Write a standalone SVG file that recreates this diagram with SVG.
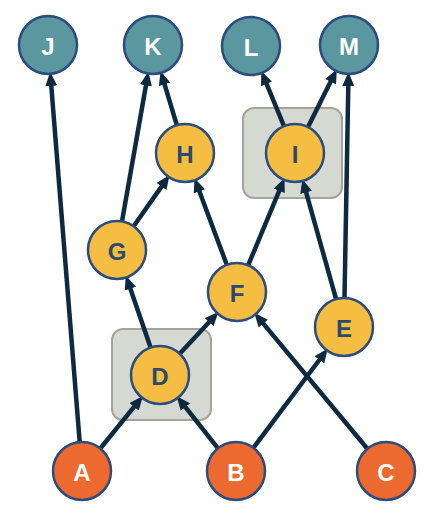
<svg xmlns="http://www.w3.org/2000/svg" width="427" height="522" viewBox="0 0 427 522">
<style>
.box{fill:#d6d8d2;stroke:#a3a49e;stroke-width:2}
.e{stroke:#0d2a40;stroke-width:4.5;fill:none;marker-end:url(#ah)}
.n circle{stroke:#2b4c7e;stroke-width:2.5}
.teal circle{fill:#5a979f}
.yel circle{fill:#f5bd41}
.org circle{fill:#ec6a2f}
.n text{font-family:"Liberation Sans",Arial,sans-serif;font-weight:bold;font-size:24px;text-anchor:middle;dominant-baseline:central}
.teal text,.org text{fill:#ffffff}
.yel text{fill:#2c4a6b}
</style>
<defs>
<marker id="ah" markerUnits="userSpaceOnUse" markerWidth="14" markerHeight="12" refX="6" refY="6" orient="auto">
<path d="M0,0 L14,6 L0,12 z" fill="#0d2a40"/>
</marker>
</defs>
<rect width="427" height="522" fill="#ffffff"/>
<g id="groups">
<rect class="box" x="243" y="108" width="99" height="90" rx="11"/>
<rect class="box" x="112" y="329" width="99" height="91" rx="11"/>
</g>
<g id="connectors">
<line class="e" x1="79.7" y1="442.1" x2="50.8" y2="79.9"/>
<line class="e" x1="100.3" y1="448.5" x2="137.9" y2="402.2"/>
<line class="e" x1="218.0" y1="448.3" x2="181.7" y2="402.4"/>
<line class="e" x1="253.4" y1="447.8" x2="323.0" y2="355.0"/>
<line class="e" x1="367.4" y1="448.7" x2="259.4" y2="318.9"/>
<line class="e" x1="150.6" y1="347.6" x2="128.4" y2="283.1"/>
<line class="e" x1="179.7" y1="353.7" x2="213.2" y2="317.7"/>
<line class="e" x1="122.0" y1="221.4" x2="147.0" y2="79.5"/>
<line class="e" x1="133.6" y1="226.3" x2="165.0" y2="181.6"/>
<line class="e" x1="226.8" y1="264.8" x2="197.3" y2="185.8"/>
<line class="e" x1="248.2" y1="265.2" x2="281.5" y2="185.3"/>
<line class="e" x1="336.1" y1="299.1" x2="304.5" y2="186.7"/>
<line class="e" x1="344.5" y1="298.0" x2="348.4" y2="80.0"/>
<line class="e" x1="176.8" y1="125.2" x2="162.9" y2="78.6"/>
<line class="e" x1="284.0" y1="126.2" x2="264.3" y2="78.3"/>
<line class="e" x1="308.0" y1="127.1" x2="333.3" y2="76.3"/>
</g>
<g id="J" class="n teal"><circle cx="48" cy="45" r="29"/><text x="48" y="46">J</text></g>
<g id="K" class="n teal"><circle cx="153" cy="45" r="29"/><text x="153" y="46">K</text></g>
<g id="L" class="n teal"><circle cx="251" cy="46" r="29"/><text x="251" y="47">L</text></g>
<g id="M" class="n teal"><circle cx="349" cy="45" r="29"/><text x="349" y="46">M</text></g>
<g id="H" class="n yel"><circle cx="185" cy="153" r="29"/><text x="185" y="154">H</text></g>
<g id="I" class="n yel"><circle cx="295" cy="153" r="29"/><text x="295" y="154">I</text></g>
<g id="G" class="n yel"><circle cx="117" cy="250" r="29"/><text x="117" y="251">G</text></g>
<g id="F" class="n yel"><circle cx="237" cy="292" r="29"/><text x="237" y="293">F</text></g>
<g id="E" class="n yel"><circle cx="344" cy="327" r="29"/><text x="344" y="328">E</text></g>
<g id="D" class="n yel"><circle cx="160" cy="375" r="29"/><text x="160" y="376">D</text></g>
<g id="A" class="n org"><circle cx="82" cy="471" r="29"/><text x="82" y="472">A</text></g>
<g id="B" class="n org"><circle cx="236" cy="471" r="29"/><text x="236" y="472">B</text></g>
<g id="C" class="n org"><circle cx="386" cy="471" r="29"/><text x="386" y="472">C</text></g>
</svg>
